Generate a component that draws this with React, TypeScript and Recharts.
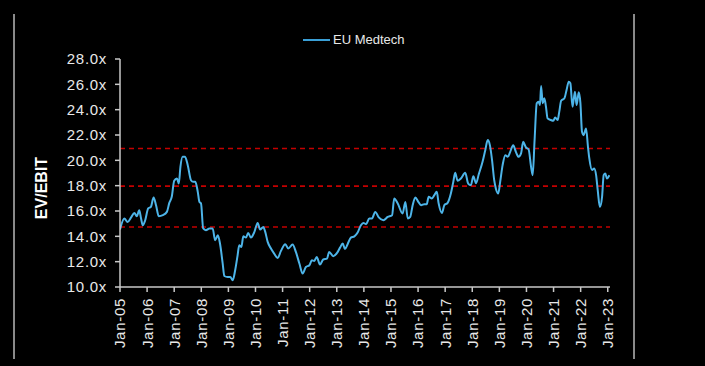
import React from 'react';
import { LineChart, Line, XAxis, YAxis, ReferenceLine } from 'recharts';

// decimal years
const dates = [
  2005.00, 2005.16, 2005.28, 2005.41, 2005.53, 2005.62, 2005.71, 2005.77, 2005.84, 2005.93,
  2006.04, 2006.14, 2006.24, 2006.33, 2006.43, 2006.58, 2006.73, 2006.82, 2006.91,
  2007.00, 2007.10, 2007.17, 2007.23, 2007.31, 2007.40, 2007.50, 2007.62, 2007.70, 2007.78, 2007.87, 2007.93, 2007.99,
  2008.07, 2008.17, 2008.30, 2008.42, 2008.51, 2008.61, 2008.69, 2008.79, 2008.85, 2008.97,
  2009.07, 2009.16, 2009.25, 2009.34, 2009.40, 2009.48, 2009.55, 2009.65, 2009.73, 2009.83, 2009.96,
  2010.08, 2010.17, 2010.29, 2010.36, 2010.45, 2010.57, 2010.69, 2010.82, 2010.94,
  2011.10, 2011.21, 2011.37, 2011.49, 2011.62, 2011.74, 2011.86, 2011.99,
  2012.08, 2012.17, 2012.26, 2012.38, 2012.50, 2012.64, 2012.72, 2012.87,
  2013.01, 2013.12, 2013.22, 2013.30, 2013.40, 2013.52, 2013.65, 2013.77, 2013.89, 2013.98,
  2014.08, 2014.20, 2014.30, 2014.42, 2014.55, 2014.72, 2014.88,
  2015.04, 2015.12, 2015.25, 2015.43, 2015.53, 2015.62, 2015.71, 2015.80, 2015.90,
  2016.01, 2016.11, 2016.23, 2016.32, 2016.39, 2016.51, 2016.60, 2016.69, 2016.76, 2016.88, 2016.97,
  2017.09, 2017.21, 2017.30, 2017.37, 2017.46, 2017.58, 2017.74, 2017.85, 2017.95,
  2018.04, 2018.14, 2018.24, 2018.38, 2018.48, 2018.57, 2018.65, 2018.73, 2018.81, 2018.87, 2018.96,
  2019.03, 2019.12, 2019.22, 2019.31, 2019.40, 2019.51, 2019.61, 2019.71, 2019.80, 2019.88, 2019.98,
  2020.08, 2020.17, 2020.23, 2020.30, 2020.38, 2020.45, 2020.50, 2020.54, 2020.60, 2020.66, 2020.72, 2020.78, 2020.90, 2020.99,
  2021.06, 2021.15, 2021.21, 2021.28, 2021.40, 2021.48, 2021.56, 2021.62, 2021.70, 2021.79, 2021.85, 2021.93, 2021.99,
  2022.05, 2022.11, 2022.20, 2022.27, 2022.32, 2022.42, 2022.50, 2022.57, 2022.63, 2022.71, 2022.79, 2022.85, 2022.91, 2022.97,
  2023.06,
];

const evEbit = [
  14.54, 15.41, 15.14, 15.49, 15.85, 15.59, 16.06, 15.49, 14.88, 15.27,
  16.2, 16.33, 17.07, 16.46, 15.59, 15.67, 15.93, 16.64, 17.12,
  18.38, 18.57, 18.17, 19.49, 20.28, 20.28, 19.62, 18.43, 18.3, 18.3, 17.51, 16.72, 16.59,
  14.62, 14.48, 14.62, 14.62, 13.69, 14.09, 13.43, 11.85, 10.87, 10.79,
  10.79, 10.53, 11.32, 12.5, 13.3, 13.16, 14.0, 13.9, 14.27, 13.9, 14.35,
  15.06, 14.54, 14.74, 14.35, 13.56, 13.04, 12.64, 12.29, 12.85,
  13.38, 13.04, 13.35, 12.77, 11.85, 11.06, 11.58, 11.72,
  12.11, 12.06, 12.37, 11.77, 12.17, 12.24, 12.77, 12.43,
  12.69, 13.11, 13.43, 13.0, 13.38, 13.9, 14.0, 14.3, 14.88, 15.06,
  14.96, 15.41, 15.41, 15.93, 15.49, 15.27, 15.53,
  15.67, 16.99, 16.59, 15.8, 16.72, 15.41, 15.53, 16.46, 17.07,
  16.72, 16.46, 16.54, 16.54, 17.12, 16.99, 17.25, 17.51, 16.59, 15.85, 16.46,
  16.64, 17.38, 18.3, 19.01, 18.38, 18.57, 19.01, 18.17, 18.04,
  18.75, 18.2, 18.9, 19.88, 20.8, 21.6, 21.2, 20.02, 18.43, 17.78, 17.38,
  18.3, 19.62, 20.41, 20.28, 20.67, 21.2, 20.67, 20.28, 20.55, 21.46, 21.02,
  20.86, 19.49, 18.83, 21.6, 24.5, 24.63, 24.36, 25.87, 24.5, 24.9, 24.23, 23.31, 23.18, 23.12,
  23.39, 23.18, 23.83, 24.7, 24.9, 25.55, 26.2, 26.08, 24.23, 25.42, 24.36, 25.37, 24.55,
  22.25, 21.99, 22.52, 21.07, 20.15, 19.23, 19.36, 18.83, 17.64, 16.32, 17.11, 18.83, 18.96, 18.57,
  18.83,
];

const yearTicks = [2005, 2006, 2007, 2008, 2009, 2010, 2011, 2012, 2013, 2014, 2015, 2016, 2017, 2018, 2019, 2020, 2021, 2022, 2023];
const valueTicks = [10, 12, 14, 16, 18, 20, 22, 24, 26, 28];
const refLevels = [20.94, 17.96, 14.74];
const seriesName = 'EU Medtech';
const yLabel = 'EV/EBIT';

const data = dates.map((t, i) => ({ t, v: evEbit[i] }));

const FONT = '"Liberation Sans", Arial, sans-serif';
const LINE_COLOR = '#4db4e8';
const TEXT_COLOR = '#e8e8e8';
const AXIS_COLOR = '#c8c8c8';

const XTick = (props: any) => {
  const { x, y, payload } = props;
  const yy = String(Math.round(payload.value) % 100).padStart(2, '0');
  return (
    <g transform={`translate(${x},${y})`}>
      <text
        transform="rotate(-90)"
        x={-3}
        y={0}
        dy="0.36em"
        textAnchor="end"
        fill={TEXT_COLOR}
        fontSize={15}
        letterSpacing={0.7}
        fontFamily={FONT}
      >
        {`Jan-${yy}`}
      </text>
    </g>
  );
};

const YTick = (props: any) => {
  const { x, y, payload } = props;
  return (
    <text x={x} y={y} dy="0.36em" textAnchor="end" fill={TEXT_COLOR} fontSize={15} letterSpacing={0.7} fontFamily={FONT}>
      {`${Number(payload.value).toFixed(1)}x`}
    </text>
  );
};

const YLabel = () => (
  <text
    x={41}
    y={188}
    transform="rotate(-90 41 188)"
    textAnchor="middle"
    dominantBaseline="central"
    fill="#ffffff"
    fontWeight="bold"
    fontSize={16}
    fontFamily={FONT}
  >
    {yLabel}
  </text>
);

export default function App() {
  return (
    <div style={{ position: 'absolute', left: 0, top: 0, width: 705, height: 366, background: '#000', overflow: 'hidden' }}>
      <LineChart width={705} height={366} data={data} margin={{ top: 59, right: 95, left: 0, bottom: 0 }}>
        <XAxis
          dataKey="t"
          type="number"
          domain={[2005, 2023.083]}
          ticks={yearTicks}
          interval={0}
          height={79}
          tickSize={5}
          tickMargin={3}
          stroke={AXIS_COLOR}
          strokeWidth={1.5}
          tick={<XTick />}
          allowDataOverflow
        />
        <YAxis
          type="number"
          domain={[10, 28]}
          ticks={valueTicks}
          interval={0}
          width={120}
          tickSize={5}
          tickMargin={8}
          stroke={AXIS_COLOR}
          strokeWidth={1.5}
          tick={<YTick />}
          label={<YLabel />}
        />
        {refLevels.map((lv) => (
          <ReferenceLine key={lv} y={lv} stroke="#c40000" strokeWidth={1.6} strokeDasharray="5 4" ifOverflow="extendDomain" />
        ))}
        <Line
          type="monotone"
          dataKey="v"
          name={seriesName}
          stroke={LINE_COLOR}
          strokeWidth={2}
          dot={false}
          isAnimationActive={false}
        />
      </LineChart>
      <div style={{ position: 'absolute', left: 303, top: 32, display: 'flex', alignItems: 'center', fontFamily: FONT, fontSize: 13, color: TEXT_COLOR }}>
        <div style={{ width: 27, height: 2, background: '#3a9fd6', marginRight: 3 }} />
        <span>{seriesName}</span>
      </div>
      <div style={{ position: 'absolute', left: 13, top: 14, width: 1.5, height: 345, background: '#8a8a8a' }} />
      <div style={{ position: 'absolute', left: 633, top: 14, width: 1.5, height: 345, background: '#8a8a8a' }} />
    </div>
  );
}
